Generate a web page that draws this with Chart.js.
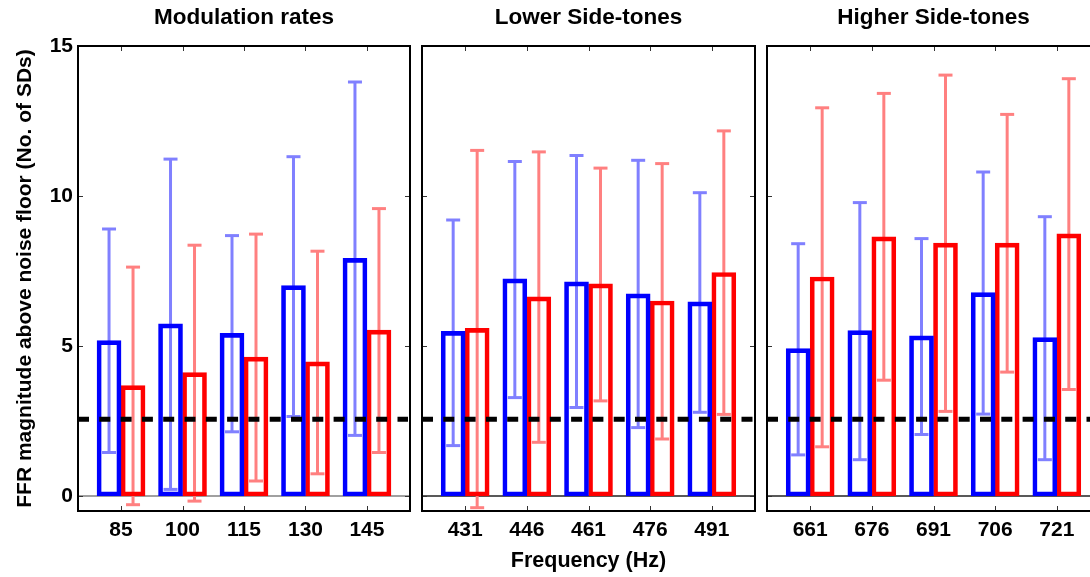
<!DOCTYPE html>
<html>
<head>
<meta charset="utf-8">
<script src="https://cdn.jsdelivr.net/npm/chart.js@4.4.1/dist/chart.umd.min.js"></script>
<style>
  html, body { margin: 0; padding: 0; background: #fff; overflow: hidden; }
  #wrap { position: relative; width: 1090px; height: 577px; overflow: hidden; }
  canvas { position: absolute; top: 0; }
</style>
</head>
<body>
<div id="wrap">
  <canvas id="panelMod" width="420" height="577" style="left:0px"></canvas>
  <canvas id="panelLow" width="353" height="577" style="left:412px"></canvas>
  <canvas id="panelHigh" width="353" height="577" style="left:757px"></canvas>
</div>
<script>
// Modulation rates
const modLabels = ['85', '100', '115', '130', '145'];
const modBlue   = [5.18, 5.74, 5.42, 7.01, 7.92];
const modBlueHi = [8.90, 11.23, 8.68, 11.31, 13.80];
const modBlueLo = [1.45, 0.22, 2.14, 2.65, 2.02];
const modRed    = [3.68, 4.11, 4.63, 4.47, 5.53];
const modRedHi  = [7.63, 8.36, 8.73, 8.16, 9.58];
const modRedLo  = [-0.29, -0.17, 0.50, 0.74, 1.45];

// Lower side-tones
const lowLabels = ['431', '446', '461', '476', '491'];
const lowBlue   = [5.49, 7.24, 7.14, 6.74, 6.47];
const lowBlueHi = [9.20, 11.15, 11.35, 11.19, 10.11];
const lowBlueLo = [1.68, 3.28, 2.95, 2.28, 2.79];
const lowRed    = [5.59, 6.64, 7.07, 6.50, 7.45];
const lowRedHi  = [11.52, 11.47, 10.93, 11.08, 12.17];
const lowRedLo  = [-0.39, 1.79, 3.17, 1.90, 2.72];

// Higher side-tones
const highLabels = ['661', '676', '691', '706', '721'];
const highBlue   = [4.91, 5.51, 5.34, 6.78, 5.28];
const highBlueHi = [8.41, 9.78, 8.58, 10.80, 9.31];
const highBlueLo = [1.37, 1.21, 2.05, 2.73, 1.21];
const highRed    = [7.30, 8.64, 8.43, 8.43, 8.74];
const highRedHi  = [12.94, 13.42, 14.03, 12.72, 13.91];
const highRedLo  = [1.64, 3.86, 2.82, 4.13, 3.55];

const yTicks = [0, 5, 10, 15];
const noiseLine = 2.56;

Chart.defaults.font.family = "'Liberation Sans', Arial, sans-serif";
Chart.defaults.font.weight = 'bold';
Chart.defaults.color = '#000';

function line(ctx, x1, y1, x2, y2) {
    ctx.beginPath();
    ctx.moveTo(x1, y1);
    ctx.lineTo(x2, y2);
    ctx.stroke();
}

// error bars, zero line, dashed criterion, frame and inward ticks
function decor(errors, zeroColor) {
    return {
        id: 'decor',
        beforeDatasetsDraw(chart) {
            const { ctx, chartArea: a, scales: { y } } = chart;
            ctx.save();
            ctx.strokeStyle = zeroColor;
            ctx.lineWidth = 1.5;
            const y0 = y.getPixelForValue(0);
            line(ctx, a.left, y0, a.right, y0);

            errors.forEach((err, d) => {
                const meta = chart.getDatasetMeta(d);
                ctx.strokeStyle = err.color;
                ctx.lineWidth = 3;
                meta.data.forEach((bar, j) => {
                    const top = y.getPixelForValue(err.hi[j]);
                    const bot = y.getPixelForValue(err.lo[j]);
                    line(ctx, bar.x, top, bar.x, bot);
                    line(ctx, bar.x - 7, top, bar.x + 7, top);
                    line(ctx, bar.x - 7, bot, bar.x + 7, bot);
                });
            });
            ctx.restore();
        },
        afterDatasetsDraw(chart) {
            const { ctx, chartArea: a, scales: { y } } = chart;
            ctx.save();
            ctx.strokeStyle = '#000';
            ctx.lineWidth = 5;
            ctx.setLineDash([11, 10.3]);
            const yy = y.getPixelForValue(noiseLine);
            line(ctx, a.left, yy, a.right - 2, yy);
            ctx.restore();
        },
        afterDraw(chart) {
            const { ctx, chartArea: a, scales: { x, y } } = chart;
            ctx.save();
            ctx.strokeStyle = '#333';
            ctx.lineWidth = 1;
            x.ticks.forEach(t => {
                const px = Math.round(x.getPixelForValue(t.value)) + 0.5;
                line(ctx, px, a.top, px, a.top + 5);
                line(ctx, px, a.bottom, px, a.bottom - 5);
            });
            y.ticks.forEach(t => {
                const py = Math.round(y.getPixelForValue(t.value)) + 0.5;
                line(ctx, a.left, py, a.left + 5, py);
                line(ctx, a.right, py, a.right - 5, py);
            });
            ctx.strokeStyle = '#000';
            ctx.lineWidth = 2;
            ctx.strokeRect(a.left, a.top, a.right - a.left, a.bottom - a.top);
            ctx.restore();
        }
    };
}

function makePanel(id, title, labels, blue, blueHi, blueLo, red, redHi, redLo, opts) {
    const toPts = arr => arr.map((v, i) => ({ x: i, y: v }));
    return new Chart(document.getElementById(id), {
        type: 'bar',
        data: {
            datasets: [{
                data: toPts(blue),
                borderColor: '#0000ff',
                backgroundColor: 'rgba(0,0,0,0)',
                borderWidth: 4,
                borderSkipped: false,
                barThickness: 24
            }, {
                data: toPts(red),
                borderColor: '#ff0000',
                backgroundColor: 'rgba(0,0,0,0)',
                borderWidth: 4,
                borderSkipped: false,
                barThickness: 24
            }]
        },
        options: {
            responsive: false,
            animation: false,
            layout: { padding: opts.padding },
            plugins: {
                legend: { display: false },
                tooltip: { enabled: false },
                title: {
                    display: true,
                    text: title,
                    fullSize: false,
                    font: { size: 22.5, weight: 'bold' },
                    padding: { top: 4.5, bottom: 14.5 }
                }
            },
            scales: {
                x: {
                    type: 'linear',
                    min: -0.7,
                    max: 4.7,
                    offset: false,
                    afterBuildTicks: s => { s.ticks = labels.map((_, i) => ({ value: i })); },
                    afterFit: s => { s.height = 66; },
                    grid: { display: false, drawTicks: false },
                    border: { display: false },
                    ticks: { padding: 7, font: { size: 21 }, callback: v => labels[v] },
                    title: {
                        display: opts.xTitle,
                        text: 'Frequency (Hz)',
                        font: { size: 21.5 },
                        padding: { top: 0, bottom: 3 }
                    }
                },
                y: {
                    min: -0.5,
                    max: 15,
                    display: opts.showY,
                    afterBuildTicks: s => { s.ticks = yTicks.map(v => ({ value: v })); },
                    afterFit: s => { if (opts.showY) s.width = 78; },
                    grid: { display: false, drawTicks: false },
                    border: { display: false },
                    ticks: { padding: 5, font: { size: 21 } },
                    title: {
                        display: opts.showY,
                        text: 'FFR magnitude above noise floor (No. of SDs)',
                        font: { size: 21 },
                        padding: { top: 13, bottom: 0 }
                    }
                }
            }
        },
        plugins: [decor([
            { color: '#8080ff', hi: blueHi, lo: blueLo },
            { color: '#ff8080', hi: redHi, lo: redLo }
        ], opts.zeroColor)]
    });
}

makePanel('panelMod', 'Modulation rates', modLabels, modBlue, modBlueHi, modBlueLo, modRed, modRedHi, modRedLo,
    { showY: true, xTitle: false, zeroColor: '#808080', padding: { left: 0, right: 10, top: 0, bottom: 0 } });
makePanel('panelLow', 'Lower Side-tones', lowLabels, lowBlue, lowBlueHi, lowBlueLo, lowRed, lowRedHi, lowRedLo,
    { showY: false, xTitle: true, zeroColor: '#222', padding: { left: 10, right: 10, top: 0, bottom: 0 } });
makePanel('panelHigh', 'Higher Side-tones', highLabels, highBlue, highBlueHi, highBlueLo, highRed, highRedHi, highRedLo,
    { showY: false, xTitle: false, zeroColor: '#222', padding: { left: 10, right: 10, top: 0, bottom: 0 } });
</script>
</body>
</html>
